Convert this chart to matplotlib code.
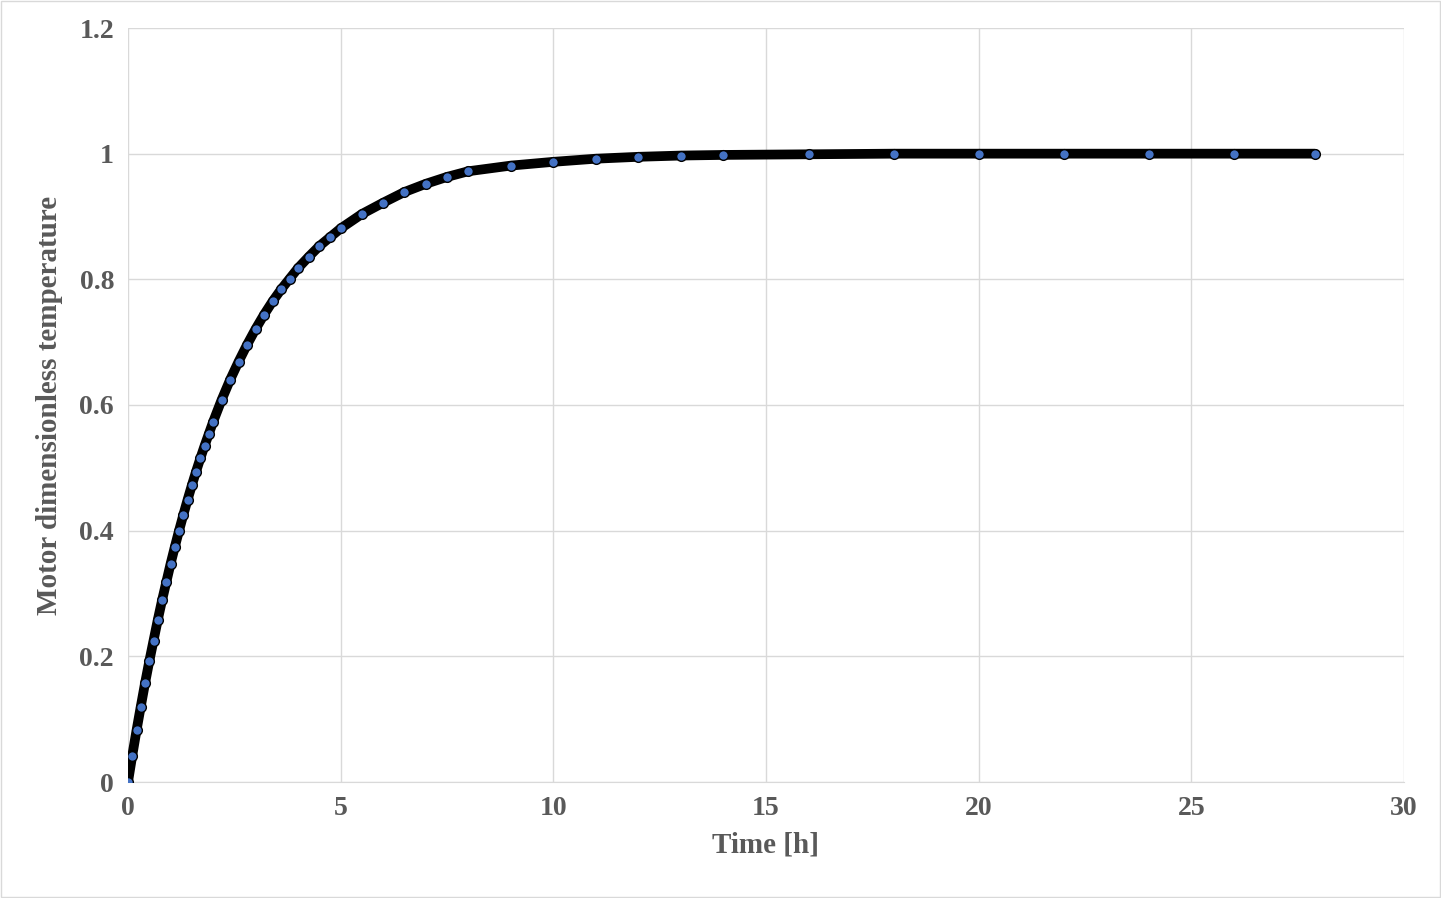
import matplotlib
matplotlib.use("Agg")
import matplotlib.pyplot as plt

time_h = [0, 0.1, 0.2, 0.3, 0.4, 0.5, 0.6, 0.7, 0.8, 0.9, 1.0, 1.1, 1.2, 1.3, 1.4, 1.5,
          1.6, 1.7, 1.8, 1.9, 2.0, 2.2, 2.4, 2.6, 2.8, 3.0, 3.2, 3.4, 3.6, 3.8, 4.0,
          4.25, 4.5, 4.75, 5.0, 5.5, 6.0, 6.5, 7.0, 7.5, 8.0, 9.0, 10.0, 11.0, 12.0,
          13.0, 14.0, 16.0, 18.0, 20.0, 22.0, 24.0, 26.0, 27.9]
temp = [0, 0.042, 0.082, 0.120, 0.157, 0.192, 0.225, 0.258, 0.289, 0.318, 0.347, 0.374,
        0.400, 0.425, 0.449, 0.472, 0.494, 0.515, 0.535, 0.554, 0.573, 0.608, 0.640,
        0.669, 0.696, 0.721, 0.744, 0.765, 0.784, 0.801, 0.818, 0.836, 0.853, 0.867,
        0.881, 0.904, 0.922, 0.939, 0.952, 0.963, 0.972, 0.981, 0.987, 0.992, 0.995,
        0.997, 0.998, 0.999, 1.0, 1.0, 1.0, 1.0, 1.0, 1.0]
x_ticks = [0, 5, 10, 15, 20, 25, 30]
y_ticks = [0, 0.2, 0.4, 0.6, 0.8, 1.0, 1.2]
y_labels = ["0", "0.2", "0.4", "0.6", "0.8", "1", "1.2"]

fig = plt.figure(figsize=(14.41, 8.98), dpi=100)
ax = fig.add_axes([128/1441, 1-782/898, (1404-128)/1441, (782-28)/898])
font = dict(family="Liberation Serif", weight="bold", color="#595959")

ax.plot(time_h, temp, color="black", lw=7, solid_capstyle="round", zorder=2)
ax.plot(time_h, temp, ls="none", marker="o", ms=7, mfc="#4472C4", mec="black",
        mew=1, zorder=3)

ax.set_xlim(0, 30)
ax.set_ylim(0, 1.2)
ax.set_xticks(x_ticks)
ax.set_yticks(y_ticks)
ax.set_xticklabels([str(t) for t in x_ticks], fontsize=20, **font)
ax.set_yticklabels(y_labels, fontsize=20, **font)
ax.tick_params(length=0, pad=10)
ax.grid(True, color="#D9D9D9", lw=1)
ax.set_axisbelow(True)
for s in ["top", "right", "left"]:
    ax.spines[s].set_visible(False)
ax.spines["bottom"].set_color("#D9D9D9")
ax.set_xlabel("Time [h]", fontsize=21, labelpad=8, **font)
ax.set_ylabel("Motor dimensionless temperature", fontsize=21, labelpad=12, **font)

fig.patches.append(plt.Rectangle((0.001, 0.001), 0.998, 0.998, transform=fig.transFigure,
                                 fill=False, edgecolor="#D9D9D9", lw=1))
fig.savefig("out.png", dpi=100)
